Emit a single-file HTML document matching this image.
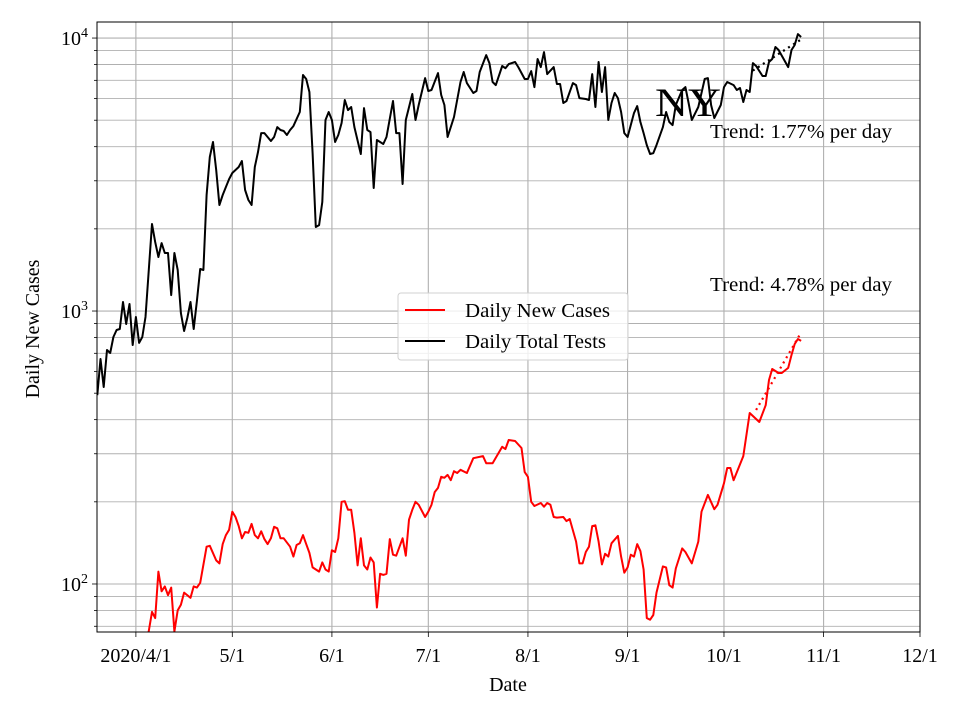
<!DOCTYPE html>
<html><head><meta charset="utf-8"><style>
html,body{margin:0;padding:0;background:#fff;}
svg{display:block;font-family:"Liberation Serif","Times New Roman",serif;}
</style></head><body>
<svg id="chart" width="960" height="720" viewBox="0 0 960 720" xmlns="http://www.w3.org/2000/svg">
<rect width="960" height="720" fill="#fff"/>
<g id="grid"></g>
<g id="series"></g>
<g id="axes"></g>
</svg>
<script>
// ---- data (day offsets from 2020-04-01) ----
const casesDays = [3,4,5,6,7,8,9,10,11,12,13,14,15,17,18,19,20,22,23,25,26,27,28,29,30,31,32,33,34,35,36,37,38,39,40,41,42,43,44,45,46,48,49,50,51,52,53,54,55,57,58,59,60,61,62,63,64,65,66,67,68,69,70,71,72,73,74,75,76,77,78,79,80,81,83,84,85,86,87,88,90,91,92,93,94,95,96,97,98,99,100,101,103,105,108,109,111,114,115,116,118,120,121,122,123,124,126,127,128,129,130,131,133,134,135,137,138,139,140,141,142,143,144,145,146,147,148,150,151,152,153,154,155,156,157,158,159,160,161,162,164,165,166,167,168,170,171,173,175,176,178,180,181,183,184,185,186,189,191,194,196,197,198,200,201,203,204,205,206,207];
const casesValues = [60,67,79,75,111,94,98,91,97,67,80,84,93,89,98,97,101,137,138,122,119,140,151,158,184,176,163,147,155,154,166,151,147,156,146,140,147,162,160,147,147,137,126,139,141,151,140,130,115,111,120,113,111,133,131,147,200,201,187,187,154,117,147,117,113,125,120,82,109,108,109,146,128,127,147,127,172,187,200,195,176,184,195,217,225,247,245,251,240,259,255,262,255,289,294,277,277,318,312,337,334,315,257,247,200,193,198,192,198,195,176,175,176,170,173,143,119,119,131,137,163,164,143,118,129,126,141,150,126,110,115,128,126,140,132,113,75,74,77,93,116,115,99,97,114,135,131,119,143,184,212,188,195,234,266,266,240,294,423,392,452,559,613,593,593,619,690,757,790,777];
const testsDays = [-12,-11,-10,-9,-8,-7,-6,-5,-4,-3,-2,-1,0,1,2,3,5,6,7,8,9,10,11,12,13,14,15,16,17,18,19,20,21,22,23,24,25,26,27,28,29,30,32,33,34,35,36,37,38,39,40,42,43,44,45,46,47,48,49,51,52,53,54,55,56,57,58,59,60,61,62,63,64,65,66,67,68,70,71,72,73,74,75,77,78,80,81,82,83,84,86,87,88,90,91,92,94,95,96,97,99,101,102,103,105,106,107,109,110,111,112,114,115,116,118,119,121,122,123,124,125,126,127,128,130,131,132,133,134,136,137,138,140,141,142,143,144,145,146,147,148,149,150,151,152,153,155,156,157,158,159,160,161,162,164,165,166,167,168,170,171,172,173,175,176,177,178,179,180,182,183,184,186,187,188,189,190,191,192,193,195,196,197,198,199,200,203,204,205,206,207];
const testsValues = [492,667,527,720,702,803,852,859,1079,896,1061,751,951,764,803,951,2083,1789,1577,1774,1631,1631,1144,1631,1413,983,845,943,1079,859,1088,1425,1413,2660,3665,4160,3285,2445,2660,2846,3044,3203,3370,3544,2775,2551,2445,3370,3823,4487,4487,4195,4340,4720,4603,4564,4413,4603,4760,5357,7320,7077,6342,3790,2031,2064,2508,5008,5357,5008,4160,4413,4883,5929,5448,5588,4720,3760,5540,4603,4525,2822,4231,4090,4340,5878,4487,4487,2919,5008,6236,5008,5685,7136,6396,6450,7443,6183,5685,4340,5136,6900,7507,6840,6289,6396,7507,8664,8098,6900,6727,7897,7755,8030,8168,7826,7077,7077,7570,6614,8377,7826,8886,7380,7826,6785,6785,5780,5878,6840,6727,6028,5980,5929,7380,5588,8168,6342,7826,5008,5780,6289,6028,5357,4487,4340,5312,5635,4924,4487,4055,3760,3790,4055,4720,5357,4924,4800,5685,6450,6614,5780,5008,5588,6289,7077,7136,5685,5093,5685,6614,6900,6727,6450,6560,5830,6450,6342,8098,7897,7260,7260,8168,8377,9270,9040,7826,9040,9431,10340,10085];
const xTickDays = [0,30,61,91,122,153,183,214,244];
const xTickLabels = ["2020/4/1","5/1","6/1","7/1","8/1","9/1","10/1","11/1","12/1"];
const yMajor = [100,1000,10000];
const yMajorExp = ["2","3","4"];
const casesTrend = {start:193, end:207, startVal:434, rate:0.0478};
const testsTrend = {start:192, end:207, startVal:7600, rate:0.0177};

// ---- scales ----
const L=97,R=920,T=22,B=632;
const xMin=-12.1,xMax=244;
const yLo=Math.log10(66.7), yHi=Math.log10(11450);
const xs=d=>L+(d-xMin)/(xMax-xMin)*(R-L);
const ys=v=>B-(Math.log10(v)-yLo)/(yHi-yLo)*(B-T);
const NS="http://www.w3.org/2000/svg";
function mk(tag,attrs,parent){const e=document.createElementNS(NS,tag);for(const k in attrs)e.setAttribute(k,attrs[k]);parent.appendChild(e);return e;}
const grid=document.getElementById('grid'),series=document.getElementById('series'),axes=document.getElementById('axes');

// grid
for(let dec=1;dec<=4;dec++){for(let m=1;m<10;m++){const v=m*Math.pow(10,dec);const y=ys(v);if(y<T||y>B)continue;
 const g=mk('line',{x1:L,x2:R,y1:y,y2:y,stroke:'#b0b0b0','stroke-width':m===1?1.1:0.9},grid);
 
 
 const t=mk('line',{x1:L-(m===1?5:3),x2:L,y1:y,y2:y,stroke:'#000','stroke-width':0.8},axes);
 
 
}}
xTickDays.forEach((d,i)=>{const x=xs(d);
 const g=mk('line',{x1:x,x2:x,y1:T,y2:B,stroke:'#b0b0b0','stroke-width':1.1},grid);
 
 
 const t=mk('line',{x1:x,x2:x,y1:B,y2:B+5,stroke:'#000','stroke-width':0.8},axes);
 
 
 const lb=mk('text',{x:x,y:B+30,'text-anchor':'middle','font-size':20},axes);lb.textContent=xTickLabels[i];
 
 
});
yMajor.forEach((v,i)=>{const y=ys(v);
 const t=mk('text',{x:L-9,y:y+7,'text-anchor':'end','font-size':20},axes);
 
 
 t.appendChild(document.createTextNode('10'));
 const s=mk('tspan',{dy:-8,'font-size':14},t);s.textContent=yMajorExp[i];
});

// series
function path(days,vals){return days.map((d,i)=>(i?'L':'M')+xs(d).toFixed(1)+','+ys(vals[i]).toFixed(1)).join('');}
const clip=mk('clipPath',{id:'pc'},series);mk('rect',{x:L,y:T,width:R-L,height:B-T},clip);
const gs=mk('g',{'clip-path':'url(#pc)'},series);
const tl=mk('path',{d:path(testsDays,testsValues),fill:'none',stroke:'#000','stroke-width':2,'stroke-linejoin':'round'},gs);


const cl=mk('path',{d:path(casesDays,casesValues),fill:'none',stroke:'#ff0000','stroke-width':2,'stroke-linejoin':'round'},gs);


function trend(tr,color,name){const dd=[],vv=[];for(let d=tr.start;d<=tr.end;d++){dd.push(d);vv.push(tr.startVal*Math.pow(1+tr.rate,d-tr.start));}
 const p=mk('path',{d:path(dd,vv),fill:'none',stroke:color,'stroke-width':2.2,'stroke-dasharray':'2,4'},gs);
 
 }
trend(casesTrend,'#ff0000','cases-trend-line');
trend(testsTrend,'#000','tests-trend-line');

// frame
const fr=mk('rect',{x:L,y:T,width:R-L,height:B-T,fill:'none',stroke:'#000','stroke-width':1},axes);


</script>
<svg style="position:absolute;left:0;top:0" width="960" height="720">
<g font-family="Liberation Serif, serif">
<text x="655" y="116" font-size="40" textLength="66" lengthAdjust="spacingAndGlyphs">NY</text>
<text x="710" y="138" font-size="20.5" textLength="182" lengthAdjust="spacingAndGlyphs">Trend: 1.77% per day</text>
<text x="710" y="291" font-size="20.5" textLength="182" lengthAdjust="spacingAndGlyphs">Trend: 4.78% per day</text>
<text x="508" y="691" font-size="20" text-anchor="middle">Date</text>
<text x="39" y="329" font-size="20" text-anchor="middle" transform="rotate(-90 39 329)">Daily New Cases</text>
<g>
<rect x="398" y="293" width="230" height="67" rx="3" fill="#fff" fill-opacity="0.8" stroke="#d0d0d0"/>
<line x1="405" x2="445" y1="310" y2="310" stroke="#ff0000" stroke-width="2"/>
<text x="465" y="317" font-size="20" textLength="145" lengthAdjust="spacingAndGlyphs">Daily New Cases</text>
<line x1="405" x2="445" y1="341" y2="341" stroke="#000" stroke-width="2"/>
<text x="465" y="348" font-size="20" textLength="141" lengthAdjust="spacingAndGlyphs">Daily Total Tests</text>
</g>
</g>
</svg>
</body></html>
